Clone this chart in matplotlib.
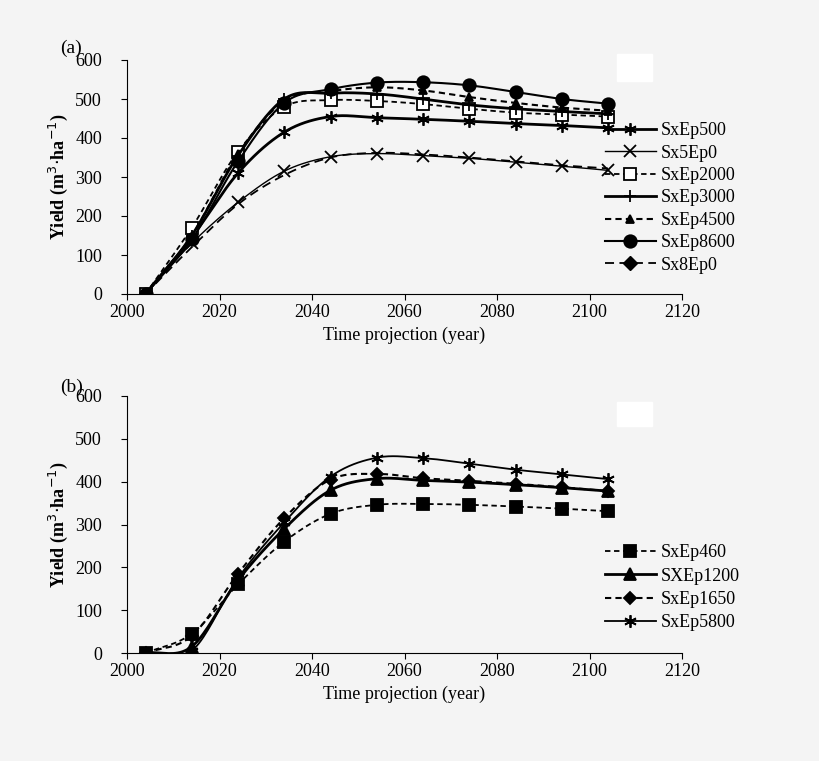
import numpy as np
import matplotlib
matplotlib.use("Agg")
import matplotlib.pyplot as plt
from matplotlib.lines import Line2D

plt.rcParams['font.family'] = ['Liberation Serif', 'DejaVu Serif']

years = [2004, 2014, 2024, 2034, 2044, 2054, 2064, 2074, 2084, 2094, 2104]

a_names = ["SxEp500", "Sx5Ep0", "SxEp2000", "SxEp3000", "SxEp4500", "SxEp8600", "Sx8Ep0"]
a_SxEp500 = [0, 145, 310, 415, 455, 452, 448, 443, 437, 432, 426]
a_Sx5Ep0 = [0, 130, 235, 315, 352, 360, 355, 348, 338, 328, 317]
a_SxEp2000 = [0, 170, 365, 480, 497, 495, 487, 475, 465, 460, 455]
a_SxEp3000 = [0, 150, 355, 500, 515, 513, 500, 485, 475, 468, 462]
a_SxEp4500 = [0, 150, 360, 495, 520, 530, 522, 505, 490, 478, 470]
a_SxEp8600 = [0, 140, 340, 490, 525, 542, 543, 535, 518, 500, 488]
a_Sx8Ep0 = [0, 120, 230, 305, 350, 362, 358, 350, 340, 330, 322]

b_names = ["SxEp460", "SXEp1200", "SxEp1650", "SxEp5800"]
b_SxEp460 = [0, 45, 160, 260, 325, 346, 348, 346, 342, 337, 331]
b_SXEp1200 = [0, 15, 170, 290, 380, 407, 403, 399, 393, 386, 378]
b_SxEp1650 = [0, 40, 185, 315, 405, 418, 408, 402, 395, 387, 378]
b_SxEp5800 = [0, 5, 175, 305, 412, 456, 455, 442, 428, 417, 406]

def smooth(x, y, n=20):
    # Catmull-Rom rendering of the line between data points (like Excel smoothed lines)
    x = np.asarray(x, float); y = np.asarray(y, float)
    P = np.column_stack([x, y])
    P = np.vstack([P[0] - (P[1] - P[0]), P, P[-1] + (P[-1] - P[-2])])
    out = []
    t = np.linspace(0, 1, n, endpoint=False)[:, None]
    for i in range(1, len(P) - 2):
        p0, p1, p2, p3 = P[i-1], P[i], P[i+1], P[i+2]
        seg = 0.5 * ((2*p1) + (-p0 + p2)*t + (2*p0 - 5*p1 + 4*p2 - p3)*t**2 + (-p0 + 3*p1 - 3*p2 + p3)*t**3)
        out.append(seg)
    out.append(P[-2][None, :])
    out = np.vstack(out)
    return out[:, 0], out[:, 1]

bg = '#f4f4f4'
fig = plt.figure(figsize=(8.2, 7.61), dpi=100, facecolor=bg)
axa = fig.add_axes([127/820, 1-294/761, 555/820, 234/761], facecolor=bg)
axb = fig.add_axes([127/820, 1-653/761, 555/820, 257/761], facecolor=bg)

def draw(ax, y, marker, ls, lw, ms, mfc='k', show_marker=True):
    sx, sy = smooth(years, y)
    ax.plot(sx, sy, color='k', ls=ls, lw=lw)
    if show_marker:
        ax.plot(years, y, ls='none', marker=marker, color='k', mfc=mfc, ms=ms, mew=1.3)
    return Line2D([], [], color='k', ls=ls, lw=lw, marker=marker, mfc=mfc, ms=ms, mew=1.3)

ha = []
ha.append(draw(axa, a_SxEp500, (6, 2, 0), '-', 2.0, 9))
ha.append(draw(axa, a_Sx5Ep0, 'x', '-', 1.0, 8))
ha.append(draw(axa, a_SxEp2000, 's', (0, (3, 2)), 1.3, 8, mfc='white'))
ha.append(draw(axa, a_SxEp3000, '+', '-', 2.0, 9))
ha.append(draw(axa, a_SxEp4500, '^', (0, (3, 2)), 1.5, 6))
ha.append(draw(axa, a_SxEp8600, 'o', '-', 1.5, 9))
sx, sy = smooth(years, a_Sx8Ep0)
axa.plot(sx, sy, color='k', ls=(0, (5, 3)), lw=1.3)
ha.append(Line2D([], [], color='k', ls=(0, (5, 3)), lw=1.3, marker='D', ms=7, markevery=[0]))

hb = []
hb.append(draw(axb, b_SxEp460, 's', (0, (3, 2)), 1.3, 8))
hb.append(draw(axb, b_SXEp1200, '^', '-', 2.0, 8))
hb.append(draw(axb, b_SxEp1650, 'D', (0, (3, 2)), 1.5, 6))
hb.append(draw(axb, b_SxEp5800, (6, 2, 0), '-', 1.3, 9))

for ax in (axa, axb):
    ax.set_xlim(2000, 2120)
    ax.set_ylim(0, 600)
    ax.set_xticks(range(2000, 2121, 20))
    ax.set_yticks(range(0, 601, 100))
    for s in ('top', 'right'):
        ax.spines[s].set_visible(False)
    ax.tick_params(labelsize=13, direction='out', length=4)
    ax.tick_params(axis='y', pad=14)
    ax.set_ylabel('Yield (m$^3$$\\cdot$ha$^{-1}$)', fontsize=13, fontweight='bold', labelpad=4)
    ax.set_xlabel('Time projection (year)', fontsize=13)

axa.add_patch(plt.Rectangle((2106, 545), 7.5, 70, color='white', zorder=0, clip_on=False))
axb.add_patch(plt.Rectangle((2106, 530), 7.5, 55, color='white', zorder=0, clip_on=False))

fig.text(60/820, 1-53/761, '(a)', fontsize=14)
fig.text(60/820, 1-392/761, '(b)', fontsize=14)

fig.legend(ha, a_names, loc='upper left', bbox_to_anchor=(598/820, 1-115/761), frameon=False,
           fontsize=13, handlelength=2.8, labelspacing=0.3, handletextpad=0.3, borderaxespad=0)
fig.legend(hb, b_names, loc='upper left', bbox_to_anchor=(598/820, 1-537/761), frameon=False,
           fontsize=13, handlelength=2.8, labelspacing=0.35, handletextpad=0.3, borderaxespad=0)

fig.savefig('out.png', dpi=100, facecolor=bg)
